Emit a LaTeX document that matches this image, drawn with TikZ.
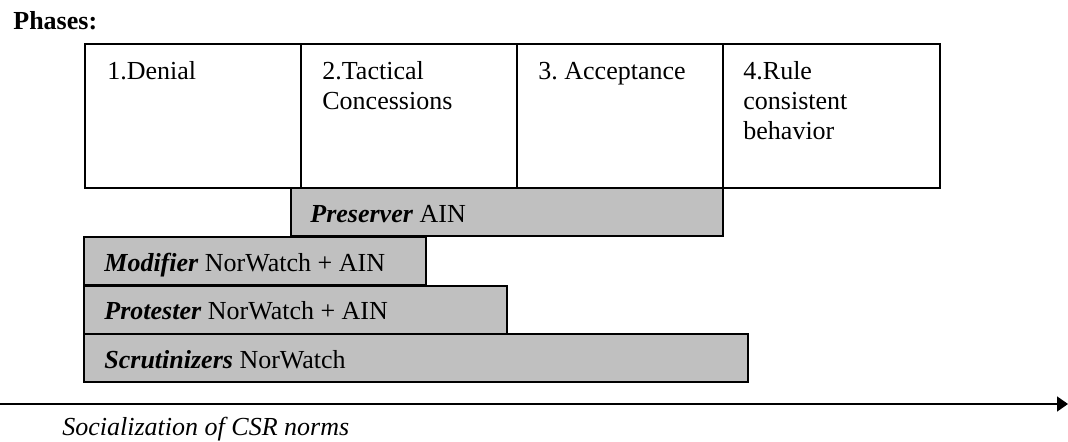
\documentclass[tikz,border=0pt]{standalone}
\usepackage{fontspec}
\setmainfont{Liberation Serif}
\usetikzlibrary{arrows.meta}

\definecolor{barfill}{HTML}{C0C0C0}
\newcommand{\stackedlines}[1]{\begin{tabular}[t]{@{}l@{}}#1\end{tabular}}

\tikzset{
	phasebox/.style={shape=rectangle, draw, line width=0.9pt, inner sep=0, minimum height=72pt},
	actorbar/.style={shape=rectangle, draw, line width=0.9pt, fill=barfill, inner sep=0, minimum height=24pt},
	boxtext/.style={anchor=base west, inner sep=0},
}

\begin{document}
\frenchspacing
\begin{tikzpicture}[x=0.5pt, y=-0.5pt, font=\fontsize{13}{15}\selectfont]
	\useasboundingbox (0, 0) rectangle (1068, 442);
	% Title:
	\node[boxtext] (Title) at (13, 30) {\textbf{Phases:}};
	% Phase boxes:
	\node[phasebox, minimum width=108pt] (Denial) at (193, 116) {};
	\node[phasebox, minimum width=108pt] (Tactical) at (409, 116) {};
	\node[phasebox, minimum width=103pt] (Acceptance) at (620, 116) {};
	\node[phasebox, minimum width=108.5pt] (Rule) at (831.5, 116) {};
	\node[boxtext] at (107, 80) {1.Denial};
	\node[boxtext] at (322, 80) {\stackedlines{2.Tactical\\Concessions}};
	\node[boxtext] at (538, 80) {3. Acceptance};
	\node[boxtext] at (743, 80) {\stackedlines{4.Rule\\consistent\\behavior}};
	% Actor bars:
	\node[actorbar, minimum width=216pt] (Preserver) at (507, 212) {};
	\node[actorbar, minimum width=171pt] (Modifier) at (255, 261) {};
	\node[actorbar, minimum width=211.5pt] (Protester) at (295.5, 310) {};
	\node[actorbar, minimum width=332pt] (Scrutinizers) at (416, 358) {};
	\node[boxtext] at (310, 223) {\textbf{\textit{Preserver}} AIN};
	\node[boxtext] at (104, 272) {\textbf{\textit{Modifier}} NorWatch + AIN};
	\node[boxtext] at (104, 320) {\textbf{\textit{Protester}} NorWatch + AIN};
	\node[boxtext] at (104, 368) {\textbf{\textit{Scrutinizers}} NorWatch};
	% Axis:
	\coordinate (AxisStart) at (0, 404);
	\coordinate (AxisEnd) at (1068, 404);
	\draw[line width=0.8pt, -{Triangle[length=5.5pt, width=7.5pt]}] (AxisStart) -- (AxisEnd);
	\node[boxtext] (AxisLabel) at (62, 435) {\textit{Socialization of CSR norms}};
\end{tikzpicture}
\end{document}
